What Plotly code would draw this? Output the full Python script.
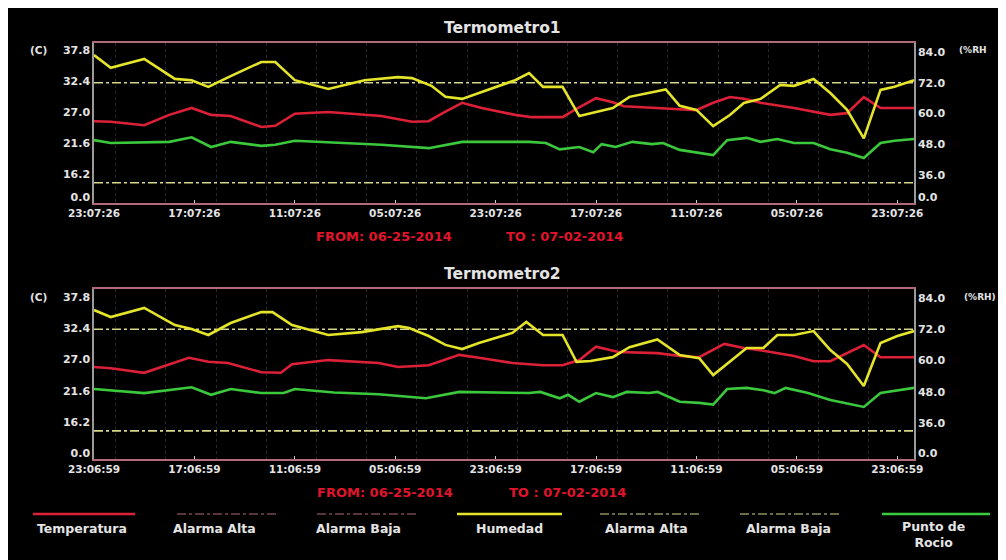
import pandas as pd
import plotly.graph_objects as go

# ---------------- data (hours since start, values) ----------------
start1 = pd.Timestamp("2014-06-25 23:07:26")
start2 = pd.Timestamp("2014-06-25 23:06:59")
span_h = 147

t1_hum_h = [0, 3, 9, 14.5, 17.5, 20.5, 24.5, 30, 32.5, 36, 42, 48.5, 54.5, 57, 60.5, 63, 66, 69.5,
            75.5, 78, 80.5, 84, 87, 90, 93, 96, 102.5, 105, 108, 111, 114, 116.5, 119.5, 123,
            125.5, 129, 132, 135, 138, 141, 143.5, 147]
t1_hum = [82.8, 77.8, 81.3, 73.5, 73.0, 70.4, 74.6, 80.1, 80.1, 73.0, 69.6, 73.0, 74.2, 73.8, 70.8,
          66.5, 65.7, 68.4, 73.0, 75.8, 70.4, 70.4, 59.0, 60.6, 62.1, 66.5, 69.4, 63.0, 61.4, 55.1,
          59.4, 64.1, 65.7, 71.1, 70.8, 73.5, 68.0, 61.4, 50.3, 69.2, 70.4, 73.0]

t1_temp_h = [0, 3, 9, 13.5, 17.5, 21, 24.5, 30, 32.5, 36, 42, 51.5, 57, 60, 62.5, 66, 69.5, 75.5,
             78.5, 84, 86, 90, 93, 95, 102.5, 108, 111, 114, 116.5, 119.5, 125.5, 132, 135, 138,
             141, 147]
t1_temp = [25.4, 25.3, 24.7, 26.5, 27.7, 26.5, 26.3, 24.4, 24.6, 26.7, 27.0, 26.3, 25.3, 25.4, 26.8,
           28.6, 27.7, 26.5, 26.1, 26.1, 27.3, 29.4, 28.7, 28.0, 27.6, 27.3, 28.6, 29.6, 29.3, 28.6,
           27.7, 26.5, 26.8, 29.6, 27.7, 27.7]

t1_dew_h = [0, 3, 13.5, 17.5, 21, 24.5, 30, 32.5, 36, 44.5, 51.5, 60, 66, 78, 81, 83.5, 87, 89.5, 91,
            93.5, 96.5, 100, 102, 105, 108, 111, 113.5, 117, 119.5, 122.5, 125.5, 129, 132, 135,
            138, 141, 143.5, 147]
t1_dew = [22.1, 21.6, 21.8, 22.6, 20.9, 21.8, 21.1, 21.3, 22.0, 21.6, 21.3, 20.7, 21.8, 21.8, 21.6,
          20.5, 20.9, 20.0, 21.4, 20.9, 21.8, 21.4, 21.6, 20.4, 19.9, 19.5, 22.1, 22.5, 21.8, 22.3,
          21.6, 21.6, 20.5, 19.9, 19.0, 21.6, 22.0, 22.3]

t2_hum_h = [0, 3, 9, 14.5, 17.5, 20.5, 24.5, 30, 32, 35.5, 42, 48, 54.5, 56.5, 60, 63, 66, 69, 75,
            77.5, 80.5, 84, 86.5, 89, 93, 96, 101, 105, 108.5, 111, 117, 120, 122.5, 125.5, 129,
            132, 135, 138, 141, 144, 147]
t2_hum = [79.4, 76.7, 80.2, 73.6, 72.1, 69.8, 74.4, 78.6, 78.6, 73.6, 69.8, 70.9, 73.2, 72.5, 69.4,
          66.0, 64.4, 66.7, 70.6, 74.8, 69.8, 69.8, 59.5, 59.8, 61.3, 65.1, 68.1, 62.1, 60.9, 54.4,
          64.8, 64.8, 69.8, 69.8, 71.3, 64.0, 58.7, 50.2, 66.7, 69.4, 71.3]

t2_temp_h = [0, 3, 9, 13, 17, 20.5, 24, 30, 33.5, 35.5, 42, 51, 54.5, 60, 65.5, 69, 75, 80.5, 84, 87,
             90, 94, 101, 105, 108.5, 113, 116.5, 120, 125.5, 129, 132, 138, 141, 147]
t2_temp = [25.7, 25.5, 24.7, 26.0, 27.3, 26.6, 26.4, 24.8, 24.7, 26.2, 26.9, 26.4, 25.7, 26.0, 27.8,
           27.3, 26.4, 26.0, 26.0, 26.9, 29.2, 28.3, 28.1, 27.6, 27.4, 29.7, 29.0, 28.5, 27.6, 26.7,
           26.7, 29.5, 27.4, 27.4]

t2_dew_h = [0, 9, 17.5, 21, 24.5, 30, 34, 36, 43, 51, 59.5, 65.5, 78, 80, 83.5, 85, 87, 90, 93, 95.5,
            99.5, 101, 105, 108.5, 111, 113.5, 117, 120, 122, 124, 128, 132, 138, 141, 147]
t2_dew = [21.9, 21.2, 22.2, 20.9, 21.9, 21.2, 21.2, 21.9, 21.3, 21.0, 20.3, 21.4, 21.2, 21.4, 20.3,
          20.9, 19.7, 21.2, 20.5, 21.4, 21.2, 21.4, 19.7, 19.5, 19.2, 21.9, 22.1, 21.7, 21.2, 22.1,
          21.2, 20.0, 18.8, 21.2, 22.1]

hum_alarm_high = 72.0
hum_alarm_low = 33.0

left_ticks = [16.2, 21.6, 27.0, 32.4, 37.8]
right_ticks = [36.0, 48.0, 60.0, 72.0, 84.0]
panel_titles = ["Termometro1", "Termometro2"]
from_text = "FROM: 06-25-2014"
to_text = "TO : 07-02-2014"
legend_names = ["Temperatura", "Alarma Alta", "Alarma Baja", "Humedad", "Alarma Alta",
                "Alarma Baja", "Punto de<br>Rocio"]

# ---------------- style ----------------
OFF = 8                     # page body margin
W, H = 1006 - OFF, 560 - OFF
RED = "#dc2038"
YEL = "#e4e42a"
GRN = "#3cc83c"
ALARM_Y = "#d6d68a"
ALARM_R = "#b06a78"
TXT = "#e4e4e4"
FONT = "DejaVu Sans"


def px_x(x):
    return (x - OFF) / W


def px_y(y):
    return 1 - (y - OFF) / H


def times(start, hours):
    return start + pd.to_timedelta(hours, unit="h")


fig = go.Figure()

panels = [
    dict(start=start1, temp=(t1_temp_h, t1_temp), hum=(t1_hum_h, t1_hum), dew=(t1_dew_h, t1_dew),
         x="x", y="y", y2="y2", ytop=43, ybot=203,
         lrange=[11.15, 39.02], rrange=[25.1, 87.5], lzero=12.2, rzero=27.4),
    dict(start=start2, temp=(t2_temp_h, t2_temp), hum=(t2_hum_h, t2_hum), dew=(t2_dew_h, t2_dew),
         x="x2", y="y3", y2="y4", ytop=289, ybot=459,
         lrange=[9.81, 39.18], rrange=[22.2, 87.46], lzero=10.85, rzero=24.5),
]

layout_axes = {}
for i, p in enumerate(panels):
    st = p["start"]
    xend = st + pd.Timedelta(hours=span_h)
    for val in (hum_alarm_high, hum_alarm_low):
        fig.add_trace(go.Scatter(x=[st, xend], y=[val, val], mode="lines",
                                 line=dict(color=ALARM_Y, width=1.6, dash="dashdot"),
                                 xaxis=p["x"], yaxis=p["y2"], showlegend=False, hoverinfo="skip"))
    fig.add_trace(go.Scatter(x=times(st, p["dew"][0]), y=p["dew"][1], mode="lines",
                             line=dict(color=GRN, width=2.6), xaxis=p["x"], yaxis=p["y"],
                             showlegend=False, name="Punto de Rocio"))
    fig.add_trace(go.Scatter(x=times(st, p["temp"][0]), y=p["temp"][1], mode="lines",
                             line=dict(color=RED, width=2.6), xaxis=p["x"], yaxis=p["y"],
                             showlegend=False, name="Temperatura"))
    fig.add_trace(go.Scatter(x=times(st, p["hum"][0]), y=p["hum"][1], mode="lines",
                             line=dict(color=YEL, width=2.6), xaxis=p["x"], yaxis=p["y2"],
                             showlegend=False, name="Humedad"))

    xname = "xaxis" if i == 0 else "xaxis2"
    yname = "yaxis" if i == 0 else "yaxis3"
    y2name = "yaxis2" if i == 0 else "yaxis4"
    dom_y = [px_y(p["ybot"]), px_y(p["ytop"])]
    layout_axes[xname] = dict(
        domain=[px_x(94), px_x(914)], anchor=p["y"], type="date",
        range=[st, xend], tick0=st, dtick=18 * 3600 * 1000, tickformat="%H:%M:%S",
        showgrid=False, showline=True, linecolor=ALARM_R, linewidth=1.5, mirror=True,
        ticks="inside", ticklen=3, tickcolor="#cccccc",
        minor=dict(dtick=9 * 3600 * 1000, showgrid=True, gridcolor="#262626", griddash="dot",
                   ticks=""),
        tickfont=dict(family=FONT, size=10.5, color=TXT, weight="bold"),
        zeroline=False, automargin=False, fixedrange=True)
    layout_axes[yname] = dict(
        domain=dom_y, anchor=p["x"], range=p["lrange"],
        tickvals=[p["lzero"]] + left_ticks, ticktext=["0.0"] + [f"{v:.1f}" for v in left_ticks],
        showgrid=False, zeroline=False, showline=True, linecolor="#9a9a9a", linewidth=1.5,
        ticks="", tickfont=dict(family=FONT, size=11, color=TXT, weight="bold"),
        automargin=False, fixedrange=True)
    layout_axes[y2name] = dict(
        domain=dom_y, anchor=p["x"], overlaying=p["y"], side="right", range=p["rrange"],
        tickvals=[p["rzero"]] + right_ticks, ticktext=["0.0"] + [f"{v:.1f}" for v in right_ticks],
        showgrid=False, zeroline=False, showline=True, linecolor="#9a9a9a", linewidth=1.5,
        ticks="", tickfont=dict(family=FONT, size=11, color=TXT, weight="bold"),
        automargin=False, fixedrange=True)

annotations = []


def ann(text, x, y, size=10, color=TXT, xanchor="center"):
    annotations.append(dict(text=text, x=px_x(x), y=px_y(y), xref="paper", yref="paper",
                            showarrow=False, xanchor=xanchor, yanchor="middle",
                            font=dict(family=FONT, size=size, color=color, weight="bold")))


ann(panel_titles[0], 502, 28, size=15.5)
ann(panel_titles[1], 502, 274, size=15.5)
for yy in (50, 297):
    ann("(C)", 38, yy, size=10.5)
ann("(%RH", 973, 50, size=9)
ann("(%RH)", 980, 297, size=9)
ann(from_text, 384, 237, size=13, color="#e0142c")
ann(to_text, 564, 237, size=13, color="#e0142c")
ann(from_text, 385, 492, size=13, color="#e0142c")
ann(to_text, 567, 492, size=13, color="#e0142c")

shapes = []
leg_lines = [(33, 135, RED, "solid", 2.5), (177, 277, ALARM_R, "dashdot", 1.2),
             (317, 417, ALARM_R, "dashdot", 1.2), (457, 562, YEL, "solid", 2.5),
             (600, 702, ALARM_Y, "dashdot", 1.2), (740, 842, ALARM_Y, "dashdot", 1.2),
             (882, 990, GRN, "solid", 2.5)]
leg_text_x = [82, 214, 358, 510, 646, 788, 933]
for (x0, x1, c, d, w), tx, name in zip(leg_lines, leg_text_x, legend_names):
    shapes.append(dict(type="line", xref="paper", yref="paper", x0=px_x(x0), x1=px_x(x1),
                       y0=px_y(514), y1=px_y(514), line=dict(color=c, width=w, dash=d)))
    if "<br>" in name:
        ann(name, tx, 534, size=12.5)
    else:
        ann(name, tx, 528, size=12.5)

fig.update_layout(
    width=W, height=H, autosize=False,
    margin=dict(l=0, r=0, t=0, b=0),
    paper_bgcolor="black", plot_bgcolor="black",
    showlegend=False, annotations=annotations, shapes=shapes,
    **layout_axes,
)

fig.write_html("out.html")
